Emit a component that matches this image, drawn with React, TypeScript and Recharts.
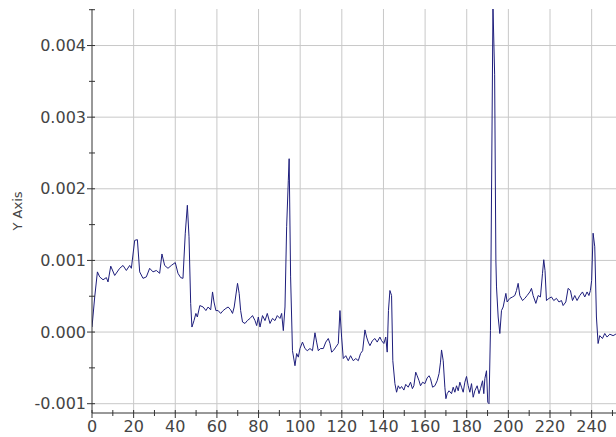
import React from "react";
import { LineChart, Line, XAxis, YAxis, CartesianGrid } from "recharts";

const xValues = [
  0, 1.3, 2.6, 3.7, 5.3, 6.9, 7.7, 9.0, 10.9, 13.3, 14.9, 16.5, 18.1, 18.9, 20.5,
  21.8, 22.9, 24.5, 26.1, 27.7, 29.3, 30.9, 32.5, 33.6, 34.9, 36.5, 38.1, 40.0,
  41.3, 42.6, 43.7, 44.8, 45.8, 46.6, 47.4, 48.0, 49.0, 49.9, 50.6, 51.8, 53.4,
  54.7, 55.8, 57.0, 57.9, 58.6, 59.5, 60.6, 61.8, 63.0, 64.3, 65.4, 66.6, 67.5,
  68.3, 69.9, 70.7, 71.4, 72.3, 73.5, 74.6, 75.9, 77.1, 78.3, 79.1, 79.9, 80.7,
  81.9, 83.1, 84.2, 85.5, 86.7, 87.9, 89.0, 90.3, 91.1, 91.9, 92.7, 93.5, 94.3,
  94.7, 95.4, 96.3, 97.5, 98.3, 99.1, 99.9, 101.1, 102.3, 103.4, 104.7, 105.9,
  107.1, 107.9, 108.7, 109.8, 111.1, 112.3, 113.5, 114.3, 115.1, 115.9, 117.1,
  118.3, 119.1, 119.9, 120.7, 121.9, 123.1, 124.2, 125.5, 126.7, 127.9, 129.0,
  130.0, 131.1, 131.9, 132.7, 133.5, 134.7, 135.9, 137.0, 138.3, 139.1, 140.2,
  141.1, 141.8, 142.4, 143.1, 143.9, 144.5, 145.5, 146.3, 147.1, 147.9, 148.7,
  149.8, 150.7, 151.9, 153.0, 153.9, 154.6, 155.5, 156.2, 157.1, 157.8, 158.8,
  159.9, 161.0, 161.9, 162.6, 163.6, 164.7, 165.8, 166.7, 167.4, 167.9, 168.7,
  169.5, 170.0, 170.6, 171.5, 172.7, 173.5, 174.3, 175.1, 175.9, 176.7, 177.5,
  178.3, 179.1, 179.9, 180.7, 181.5, 182.3, 183.1, 183.9, 185.0, 185.9, 186.6,
  187.6, 188.2, 188.7, 189.5, 190.1, 190.7, 191.4, 192.6, 193.4, 194.0, 194.3,
  195.1, 195.9, 196.7, 197.5, 198.8, 199.4, 200.7, 202.0, 203.1, 203.9, 204.7,
  205.5, 206.8, 207.9, 209.0, 210.3, 211.1, 211.9, 213.2, 214.3, 215.4, 216.4,
  217.0, 217.6, 218.3, 219.5, 220.7, 221.8, 223.1, 224.3, 225.5, 226.3, 227.6,
  228.7, 229.8, 230.8, 231.9, 233.0, 234.3, 235.6, 236.7, 237.8, 238.7, 239.4,
  240.0, 240.7, 241.5, 242.3, 243.1, 243.9, 245.2, 246.3, 247.4, 248.7, 250.3,
  251.6, 253.0,
];

const yValues = [
  0.00007, 0.00049, 0.00084, 0.00077, 0.00073, 0.00076, 0.0007, 0.00092, 0.00079,
  0.00089, 0.00093, 0.00086, 0.00093, 0.00089, 0.00128, 0.00129, 0.00084, 0.00075,
  0.00077, 0.00089, 0.00084, 0.00086, 0.00082, 0.00109, 0.00093, 0.00089, 0.00093,
  0.00097, 0.00082, 0.00076, 0.00075, 0.00138, 0.00177, 0.00133, 0.0004, 0.00007,
  0.00016, 0.00026, 0.00021, 0.00037, 0.00035, 0.0003, 0.00035, 0.00031, 0.00056,
  0.00042, 0.0003, 0.0003, 0.00026, 0.0003, 0.00033, 0.00035, 0.00031, 0.00026,
  0.00035, 0.00068, 0.00054, 0.0003, 0.00014, 0.00012, 0.00016, 0.00019, 0.00023,
  0.00016, 0.00009, 0.00021, 0.00007, 0.00023, 0.00016, 0.00026, 0.00012, 0.00019,
  0.00016, 0.00023, 0.00019, 0.00026, 0.00002, 0.00035, 0.00147, 0.00212, 0.00242,
  0.00077, -0.00026, -0.00047, -0.0003, -0.00035, -0.00023, -0.00014, -0.00023,
  -0.00026, -0.00023, -0.00026, -0.00001, -0.00014, -0.00026, -0.00023, -0.00023,
  -0.00014, -0.00009, -0.00016, -0.00028, -0.00026, -0.00021, -0.00016, 0.0003,
  -0.00007, -0.00037, -0.00033, -0.0004, -0.00033, -0.0004, -0.00037, -0.0004,
  -0.0003, -0.00026, 0.00003, -0.00007, -0.00014, -0.00019, -0.00012, -0.00009,
  -0.00014, -0.00007, -0.00012, -0.00016, -0.00007, -0.00028, 0.0003, 0.00058,
  0.00051, -0.0004, -0.00072, -0.00084, -0.00075, -0.00079, -0.00076, -0.00081,
  -0.00073, -0.00077, -0.0007, -0.00079, -0.00075, -0.00056, -0.00061, -0.00068,
  -0.00075, -0.0007, -0.00072, -0.00064, -0.00061, -0.00065, -0.00077, -0.00075,
  -0.00068, -0.00058, -0.00042, -0.00025, -0.0004, -0.00077, -0.00093, -0.00086,
  -0.00082, -0.00086, -0.00077, -0.00084, -0.00075, -0.00082, -0.0007, -0.00077,
  -0.00084, -0.0007, -0.00062, -0.00075, -0.00084, -0.00072, -0.00091, -0.00082,
  -0.00075, -0.00086, -0.00079, -0.00068, -0.00086, -0.00065, -0.00054, -0.00098,
  -0.001, 0.00002, 0.00455, 0.0036, 0.001, 0.00063, 0.00021, -0.00002, 0.0003,
  0.00035, 0.00054, 0.00042, 0.00047, 0.00049, 0.00051, 0.00058, 0.00068, 0.00051,
  0.00044, 0.00047, 0.00051, 0.00056, 0.00061, 0.00051, 0.0004, 0.00051, 0.00049,
  0.00082, 0.00101, 0.00086, 0.00044, 0.00047, 0.00049, 0.00044, 0.00047, 0.00042,
  0.00044, 0.00037, 0.00042, 0.00061, 0.00058, 0.00044, 0.00051, 0.00044, 0.00051,
  0.00056, 0.00049, 0.00056, 0.00051, 0.00058, 0.00072, 0.00138, 0.00119, 0.00021,
  -0.00016, -0.00005, -0.00009, -0.00002, -0.00007, -0.00003, -0.00005, -0.00003,
  -0.00006,
];

const xTicks = [0, 10, 20, 30, 40, 50, 60, 70, 80, 90, 100, 110, 120, 130, 140, 150, 160, 170, 180, 190, 200, 210, 220, 230, 240, 250];
const yTicks = [-0.001, -0.0005, 0, 0.0005, 0.001, 0.0015, 0.002, 0.0025, 0.003, 0.0035, 0.004, 0.0045];
const xGrid = [20, 40, 60, 80, 100, 120, 140, 160, 180, 200, 220, 240];
const yGrid = [-0.001, 0, 0.001, 0.002, 0.003, 0.004];

const data = xValues.map((x, i) => ({ x, y: yValues[i] }));

const FONT = "'DejaVu Sans', Verdana, sans-serif";
const AXIS = "#333";
const LABEL = "#444";

const YTick = (props: any) => {
  const { x, y, payload } = props;
  const v = payload.value;
  const major = Math.abs(v * 1000 - Math.round(v * 1000)) < 1e-6;
  return (
    <g>
      <line x1={x - (major ? 5 : 3)} x2={x + 3} y1={y} y2={y} stroke={AXIS} />
      {major && (
        <text x={x - 6} y={y} dy={5.5} textAnchor="end" fill={LABEL} fontSize={16} fontFamily={FONT}>
          {v.toFixed(3)}
        </text>
      )}
    </g>
  );
};

const XTick = (props: any) => {
  const { x, y, payload } = props;
  const v = payload.value;
  const major = v % 20 === 0;
  return (
    <g>
      <line x1={x} x2={x} y1={y - 3} y2={y + (major ? 5 : 3)} stroke={AXIS} />
      {major && (
        <text x={x} y={y} dy={19} textAnchor="middle" fill={LABEL} fontSize={16} fontFamily={FONT}>
          {v}
        </text>
      )}
    </g>
  );
};

export default function App() {
  return (
    <div style={{ position: "absolute", left: 0, top: 0, width: 616, height: 437, background: "#fff" }}>
      <LineChart width={616} height={437} data={data} margin={{ top: 9, right: 0, bottom: 0, left: 0 }}>
        <CartesianGrid stroke="#c8c8c8" horizontalValues={yGrid} verticalValues={xGrid} />
        <XAxis
          dataKey="x"
          type="number"
          domain={[0, 251.7]}
          allowDataOverflow
          ticks={xTicks}
          interval={0}
          height={24}
          tickSize={0}
          tickMargin={0}
          tickLine={false}
          axisLine={{ stroke: AXIS }}
          tick={<XTick />}
        />
        <YAxis
          type="number"
          domain={[-0.00113, 0.00451]}
          allowDataOverflow
          ticks={yTicks}
          interval={0}
          width={92}
          tickSize={0}
          tickMargin={0}
          tickLine={false}
          axisLine={{ stroke: AXIS }}
          tick={<YTick />}
          label={({ viewBox }: any) => (
            <text
              x={viewBox.x + 17}
              y={viewBox.y + viewBox.height / 2}
              transform={`rotate(-90, ${viewBox.x + 17}, ${viewBox.y + viewBox.height / 2})`}
              textAnchor="middle"
              dominantBaseline="central"
              fill={LABEL}
              fontSize={13}
              fontFamily={FONT}
            >
              Y Axis
            </text>
          )}
        />
        <Line
          type="linear"
          dataKey="y"
          stroke="#1e1e7c"
          strokeWidth={1}
          dot={false}
          isAnimationActive={false}
        />
      </LineChart>
    </div>
  );
}
